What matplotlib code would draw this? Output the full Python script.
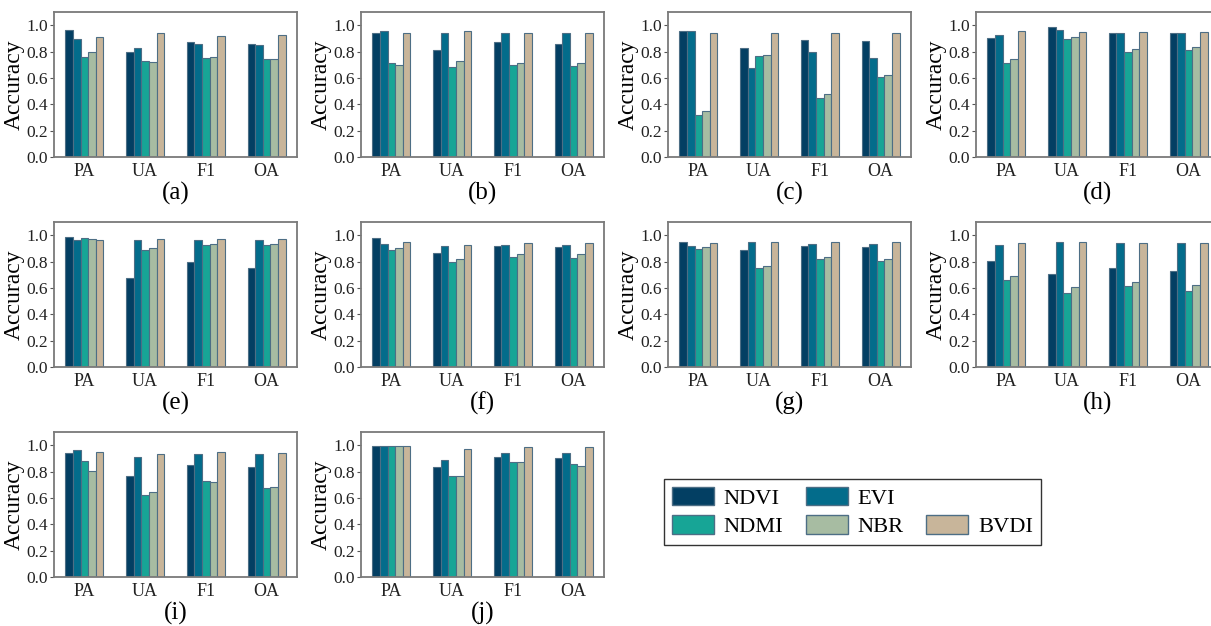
import numpy as np
import matplotlib
matplotlib.use("Agg")
import matplotlib.pyplot as plt
from matplotlib.patches import Patch

plt.rcParams['font.family'] = ['Liberation Serif', 'DejaVu Serif']

metrics = ['PA', 'UA', 'F1', 'OA']
indices = ['NDVI', 'EVI', 'NDMI', 'NBR', 'BVDI']
colors = ['#033f63', '#036c8b', '#17a596', '#a7bca2', '#c8b59a']
panel_labels = ['(a)', '(b)', '(c)', '(d)', '(e)', '(f)', '(g)', '(h)', '(i)', '(j)']

# one row per index (NDVI, EVI, NDMI, NBR, BVDI), columns PA, UA, F1, OA
acc_a = [[0.967, 0.795, 0.873, 0.861],
         [0.894, 0.825, 0.861, 0.853],
         [0.759, 0.732, 0.749, 0.742],
         [0.800, 0.724, 0.759, 0.747],
         [0.909, 0.937, 0.921, 0.927]]
acc_b = [[0.942, 0.810, 0.873, 0.861],
         [0.954, 0.937, 0.944, 0.944],
         [0.716, 0.686, 0.701, 0.694],
         [0.696, 0.729, 0.711, 0.716],
         [0.942, 0.954, 0.944, 0.944]]
acc_c = [[0.954, 0.825, 0.886, 0.878],
         [0.959, 0.676, 0.795, 0.749],
         [0.316, 0.767, 0.451, 0.610],
         [0.349, 0.772, 0.481, 0.620],
         [0.942, 0.942, 0.942, 0.942]]
acc_d = [[0.899, 0.987, 0.939, 0.944],
         [0.927, 0.962, 0.944, 0.944],
         [0.716, 0.894, 0.795, 0.813],
         [0.742, 0.914, 0.820, 0.835],
         [0.954, 0.949, 0.949, 0.949]]
acc_e = [[0.985, 0.674, 0.798, 0.753],
         [0.960, 0.960, 0.960, 0.960],
         [0.975, 0.886, 0.924, 0.924],
         [0.970, 0.902, 0.932, 0.932],
         [0.965, 0.970, 0.970, 0.970]]
acc_f = [[0.975, 0.864, 0.917, 0.912],
         [0.932, 0.917, 0.927, 0.927],
         [0.884, 0.795, 0.838, 0.828],
         [0.902, 0.823, 0.859, 0.854],
         [0.947, 0.924, 0.937, 0.937]]
acc_g = [[0.947, 0.884, 0.917, 0.912],
         [0.917, 0.947, 0.932, 0.932],
         [0.896, 0.750, 0.818, 0.803],
         [0.909, 0.770, 0.833, 0.818],
         [0.939, 0.952, 0.947, 0.947]]
acc_h = [[0.801, 0.705, 0.753, 0.730],
         [0.922, 0.952, 0.937, 0.937],
         [0.657, 0.563, 0.611, 0.573],
         [0.692, 0.609, 0.644, 0.624],
         [0.937, 0.947, 0.939, 0.939]]
acc_i = [[0.937, 0.770, 0.848, 0.833],
         [0.960, 0.909, 0.932, 0.932],
         [0.879, 0.624, 0.727, 0.674],
         [0.801, 0.644, 0.720, 0.679],
         [0.952, 0.934, 0.947, 0.939]]
acc_j = [[0.997, 0.838, 0.912, 0.902],
         [0.997, 0.891, 0.942, 0.942],
         [0.997, 0.770, 0.869, 0.854],
         [0.997, 0.765, 0.869, 0.843],
         [0.997, 0.970, 0.985, 0.985]]

all_acc = [acc_a, acc_b, acc_c, acc_d, acc_e, acc_f, acc_g, acc_h, acc_i, acc_j]

W, H = 1211, 626
fig = plt.figure(figsize=(W / 100, H / 100), dpi=100)

col_left = [54, 361, 668, 976]
row_bottom = [157, 367, 577]
ax_w, ax_h = 243, 145

x = np.arange(len(metrics))
bw = 0.125

for k, acc in enumerate(all_acc):
    r, c = divmod(k, 4)
    ax = fig.add_axes([col_left[c] / W, 1 - row_bottom[r] / H, ax_w / W, ax_h / H])
    for i, name in enumerate(indices):
        ax.bar(x + (i - 2) * bw, acc[i], bw, color=colors[i],
               edgecolor='#4d6e85', linewidth=0.8, label=name)
    ax.set_xlim(-0.5, 3.5)
    ax.set_ylim(0, 1.1)
    ax.set_yticks([0.0, 0.2, 0.4, 0.6, 0.8, 1.0])
    ax.set_yticklabels(['0.0', '0.2', '0.4', '0.6', '0.8', '1.0'])
    ax.set_xticks(x)
    ax.set_xticklabels(metrics)
    ax.tick_params(axis='y', direction='out', length=3, width=0.8, color='#555555',
                   labelsize=12.5, pad=1.5, labelcolor='#222222')
    ax.tick_params(axis='x', length=0, labelsize=13, pad=4, labelcolor='#222222')
    for s in ax.spines.values():
        s.set_color('#7a7a7a')
        s.set_linewidth(1.3)
    ax.set_ylabel('Accuracy', fontsize=17, labelpad=1)
    ax.text(0.5, -0.25, panel_labels[k], transform=ax.transAxes,
            ha='center', va='center', fontsize=18)

# legend layout: column 3 has an empty slot on top
blank = Patch(visible=False)
handles = [Patch(facecolor=colors[0], edgecolor='#4d6e85'),
           Patch(facecolor=colors[2], edgecolor='#4d6e85'),
           Patch(facecolor=colors[1], edgecolor='#4d6e85'),
           Patch(facecolor=colors[3], edgecolor='#4d6e85'),
           blank,
           Patch(facecolor=colors[4], edgecolor='#4d6e85')]
labels = ['NDVI', 'NDMI', 'EVI', 'NBR', '', 'BVDI']
leg = fig.legend(handles, labels, ncol=3, loc='center',
                 bbox_to_anchor=(852.5 / W, 1 - 512 / H), fontsize=16.2,
                 frameon=True, fancybox=False, edgecolor='black',
                 handlelength=1.85, handleheight=0.9, handletextpad=0.45,
                 columnspacing=1.0, labelspacing=0.3, borderpad=0.35)
leg.get_frame().set_linewidth(1.0)

fig.savefig('out.png', dpi=100)
